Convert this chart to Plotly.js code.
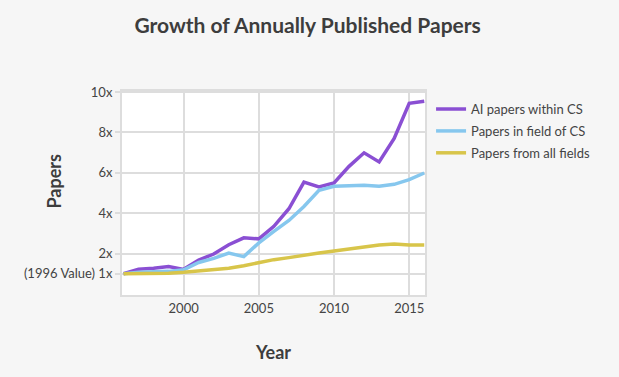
<!DOCTYPE html>
<html>
<head>
<meta charset="utf-8">
<script src="https://cdn.plot.ly/plotly-3.0.1.min.js"></script>
<style>
html,body{margin:0;padding:0;background:#f6f6f6;}
#chart{width:619px;height:377px;}
</style>
</head>
<body>
<div id="chart"></div>
<script>
const years = [1996,1997,1998,1999,2000,2001,2002,2003,2004,2005,2006,2007,2008,2009,2010,2011,2012,2013,2014,2015,2016];
const aiPapers = [1.0,1.23,1.28,1.36,1.22,1.68,1.98,2.44,2.78,2.73,3.35,4.22,5.54,5.3,5.5,6.32,6.99,6.54,7.7,9.44,9.54];
const csPapers = [1.0,1.08,1.1,1.12,1.2,1.56,1.76,2.03,1.85,2.53,3.1,3.64,4.33,5.13,5.33,5.36,5.38,5.33,5.43,5.66,5.99];
const allPapers = [1.0,1.0,1.02,1.03,1.08,1.15,1.22,1.28,1.4,1.56,1.7,1.8,1.93,2.03,2.13,2.23,2.33,2.43,2.48,2.43,2.43];
const seriesNames = ["AI papers within CS","Papers in field of CS","Papers from all fields"];
const yTickVals = [1,2,4,6,8,10];
const yTickText = ["(1996 Value) 1x","2x","4x","6x","8x","10x"];
const xTickVals = [2000,2005,2010,2015];

const font = "Lato, 'Open Sans', sans-serif";
const colors = ["#8a4fd3","#86c7ee","#d8c54a"];
const traces = [aiPapers, csPapers, allPapers].map((ys,i)=>({
  x: years, y: ys, type:'scatter', mode:'lines', name: seriesNames[i], legendgroup:'g'+i,
  line:{color:colors[i], width:3.5}
}));
const layout = {
  width:619, height:377,
  paper_bgcolor:'#f6f6f6', plot_bgcolor:'#ffffff',
  margin:{l:122,r:194,t:91,b:82},
  font:{family:font, color:'#444', size:12},
  title:{text:'<b>Growth of Annually Published Papers</b>', x:0.497, xanchor:'center', y:0.933, yanchor:'middle', font:{family:font, size:21, color:'#3d3d3d'}},
  xaxis:{range:[1995.9,2016.05], tickvals:xTickVals, showgrid:true, gridcolor:'#dddddd', gridwidth:2,
    showline:true, linecolor:'#dddddd', linewidth:2, mirror:true, zeroline:false, ticks:'',
    tickfont:{family:font,size:13,color:'#444'},
    title:{text:'<b>Year</b>', font:{family:font,size:18,color:'#3d3d3d'}, standoff:32}},
  yaxis:{range:[-0.05,10.05], tickvals:yTickVals, ticktext:yTickText, showgrid:true, gridcolor:'#dddddd', gridwidth:2,
    showline:true, linecolor:'#dddddd', linewidth:2, mirror:true, zeroline:false, ticks:'outside', ticklen:5, tickcolor:'#dddddd', tickwidth:2,
    tickfont:{family:font,size:13,color:'#444'}},
  annotations:[{text:'<b>Papers</b>', xref:'paper', yref:'paper', x:-0.225, y:0.56, xanchor:'center', yanchor:'middle', textangle:-90, showarrow:false, font:{family:font,size:18,color:'#3d3d3d'}}],
  legend:{x:1.02, y:0.985, xanchor:'left', yanchor:'top', bgcolor:'rgba(0,0,0,0)', font:{family:font,size:13,color:'#444'}, tracegroupgap:2},
  showlegend:true
};
Plotly.newPlot('chart', traces, layout, {displayModeBar:false, staticPlot:true});
</script>
</body>
</html>
